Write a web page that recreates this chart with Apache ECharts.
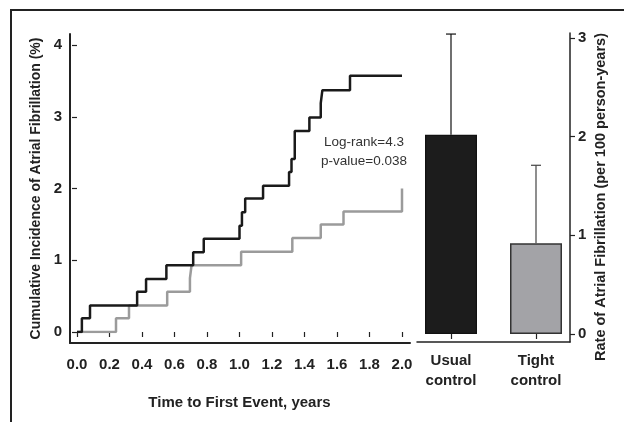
<!DOCTYPE html>
<html>
<head>
<meta charset="utf-8">
<script src="https://cdn.jsdelivr.net/npm/echarts@6/dist/echarts.min.js"></script>
<style>
html,body{margin:0;padding:0;background:#fff;}
#chart{width:624px;height:422px;}
</style>
</head>
<body>
<div id="chart"></div>
<script>
// Kaplan-Meier style cumulative incidence (%), step points: time (years) -> value after step
const usualTime = [0, 0.03, 0.08, 0.37, 0.425, 0.55, 0.715, 0.78, 1.00, 1.015, 1.035, 1.145, 1.305, 1.32, 1.34, 1.43, 1.50, 1.51, 1.68, 2.0];
const usualInc  = [0, 0.19, 0.37, 0.56, 0.74, 0.93, 1.11, 1.30, 1.48, 1.67, 1.86, 2.04, 2.23, 2.41, 2.80, 2.99, 3.19, 3.37, 3.57, 3.57];
const tightTime = [0, 0.24, 0.32, 0.555, 0.695, 0.705, 1.01, 1.325, 1.50, 1.64, 2.0];
const tightInc  = [0, 0.19, 0.37, 0.56, 0.75, 0.93, 1.12, 1.31, 1.50, 1.68, 2.0];

const xTickLabels = ['0.0','0.2','0.4','0.6','0.8','1.0','1.2','1.4','1.6','1.8','2.0'];
const yTickLabels = ['0','1','2','3','4'];
const rateTickLabels = ['0','1','2','3'];

const groups = ['Usual\ncontrol', 'Tight\ncontrol'];
const rates = [2.02, 0.92];
const rateUpper = [3.04, 1.71];

const FONT = 'Liberation Sans, Arial, Helvetica, sans-serif';
const INK = '#222';

const usualData = usualTime.map((t, i) => [t, usualInc[i]]);
const tightData = tightTime.map((t, i) => [t, tightInc[i]]);
const errData = groups.map((g, i) => [i, rates[i], rateUpper[i]]);

const chart = echarts.init(document.getElementById('chart'), null, {renderer: 'canvas'});

const hiddenBox = (gridIndex, extra) => Object.assign({
  gridIndex, type: 'value', min: 0, max: 1,
  axisLine: {show: true, onZero: false, lineStyle: {color: INK, width: 2}},
  axisTick: {show: false}, axisLabel: {show: false}, splitLine: {show: false}
}, extra || {});

const option = {
  animation: false,
  backgroundColor: '#fff',
  textStyle: {fontFamily: FONT},
  grid: [
    {left: 77, right: 222, top: 45, bottom: 90},
    {left: 70, right: 214, top: 34, bottom: 79},
    {left: 408.5, right: 45.5, top: 38, bottom: 88},
    {left: 417, right: 54, top: 33, bottom: 80}
  ],
  xAxis: [
    {
      gridIndex: 0, type: 'value', min: 0, max: 2, interval: 0.2, offset: 11,
      axisLine: {show: false},
      axisTick: {show: true, length: 5, lineStyle: {color: INK, width: 1.2}},
      axisLabel: {
        margin: 14, color: INK, fontSize: 15, fontWeight: 'bold', fontFamily: FONT,
        formatter: (v) => xTickLabels[Math.round(v / 0.2)]
      },
      splitLine: {show: false},
      name: 'Time to First Event, years', nameLocation: 'middle', nameGap: 52,
      nameTextStyle: {color: INK, fontSize: 15, fontWeight: 'bold', fontFamily: FONT}
    },
    hiddenBox(1, {position: 'bottom'}),
    {
      gridIndex: 2, type: 'category', data: groups, offset: 8,
      axisLine: {show: false},
      axisTick: {show: true, alignWithLabel: true, length: 5, lineStyle: {color: INK, width: 1.2}},
      axisLabel: {margin: 9, color: INK, fontSize: 15, fontWeight: 'bold', lineHeight: 20, fontFamily: FONT},
      splitLine: {show: false}
    },
    hiddenBox(3, {position: 'bottom', axisLine: {show: true, onZero: false, lineStyle: {color: INK, width: 1.5}}})
  ],
  yAxis: [
    {
      gridIndex: 0, type: 'value', min: 0, max: 4, interval: 1, offset: 7,
      axisLine: {show: false},
      axisTick: {show: true, length: 5, lineStyle: {color: INK, width: 1.2}},
      axisLabel: {
        margin: 8, color: INK, fontSize: 15, fontWeight: 'bold', fontFamily: FONT,
        formatter: (v) => yTickLabels[Math.round(v)]
      },
      splitLine: {show: false},
      name: 'Cumulative Incidence of Atrial Fibrillation (%)', nameLocation: 'middle', nameRotate: 90, nameGap: 26,
      nameTextStyle: {color: INK, fontSize: 14, fontWeight: 'bold', fontFamily: FONT}
    },
    hiddenBox(1, {position: 'left'}),
    {
      gridIndex: 2, type: 'value', min: 0, max: 3, interval: 1, position: 'right', offset: -8.5,
      axisLine: {show: false},
      axisTick: {show: true, length: 5, lineStyle: {color: INK, width: 1.2}},
      axisLabel: {
        margin: 8, color: INK, fontSize: 15, fontWeight: 'bold', fontFamily: FONT,
        formatter: (v) => rateTickLabels[Math.round(v)]
      },
      splitLine: {show: false}
    },
    hiddenBox(3, {position: 'right', axisLine: {show: true, onZero: false, lineStyle: {color: INK, width: 1.5}}})
  ],
  series: [
    {
      type: 'line', xAxisIndex: 0, yAxisIndex: 0, data: tightData, step: 'end',
      showSymbol: false, symbol: 'none',
      lineStyle: {color: '#9b9b9b', width: 2.5}, z: 2
    },
    {
      type: 'line', xAxisIndex: 0, yAxisIndex: 0, data: usualData, step: 'end',
      showSymbol: false, symbol: 'none',
      lineStyle: {color: '#1a1a1a', width: 2.5}, z: 3
    },
    {
      type: 'bar', xAxisIndex: 2, yAxisIndex: 2, barWidth: 52,
      data: rates.map((v, i) => ({
        value: v,
        itemStyle: i === 0
          ? {color: '#1c1c1c', borderColor: '#111', borderWidth: 1.2}
          : {color: '#a3a3a7', borderColor: '#333', borderWidth: 1.5}
      }))
    },
    {
      type: 'custom', xAxisIndex: 2, yAxisIndex: 2, data: errData, z: 5,
      renderItem: (params, api) => {
        const base = api.coord([api.value(0), api.value(1)]);
        const top = api.coord([api.value(0), api.value(2)]);
        const col = params.dataIndex === 0 ? '#111' : '#444';
        return {
          type: 'group',
          children: [
            {type: 'line', shape: {x1: base[0], y1: base[1], x2: top[0], y2: top[1]}, style: {stroke: col, lineWidth: 1.2}},
            {type: 'line', shape: {x1: top[0] - 5, y1: top[1], x2: top[0] + 5, y2: top[1]}, style: {stroke: col, lineWidth: 1.2}}
          ]
        };
      }
    }
  ],
  graphic: [
    {type: 'rect', silent: true, shape: {x: 11, y: 10, width: 800, height: 600},
     style: {fill: 'none', stroke: INK, lineWidth: 2}},
    {type: 'text', silent: true, x: 364, y: 142,
     style: {text: 'Log-rank=4.3', fill: '#333', fontSize: 13.5, fontFamily: FONT, textAlign: 'center', textVerticalAlign: 'middle'}},
    {type: 'text', silent: true, x: 364, y: 161,
     style: {text: 'p-value=0.038', fill: '#333', fontSize: 13.5, fontFamily: FONT, textAlign: 'center', textVerticalAlign: 'middle'}},
    {type: 'text', silent: true, x: 601, y: 197, rotation: Math.PI / 2,
     style: {text: 'Rate of Atrial Fibrillation (per 100 person-years)', fill: INK, fontSize: 14.5, fontWeight: 'bold', fontFamily: FONT, textAlign: 'center', textVerticalAlign: 'middle'}}
  ]
};

chart.setOption(option);
</script>
</body>
</html>
